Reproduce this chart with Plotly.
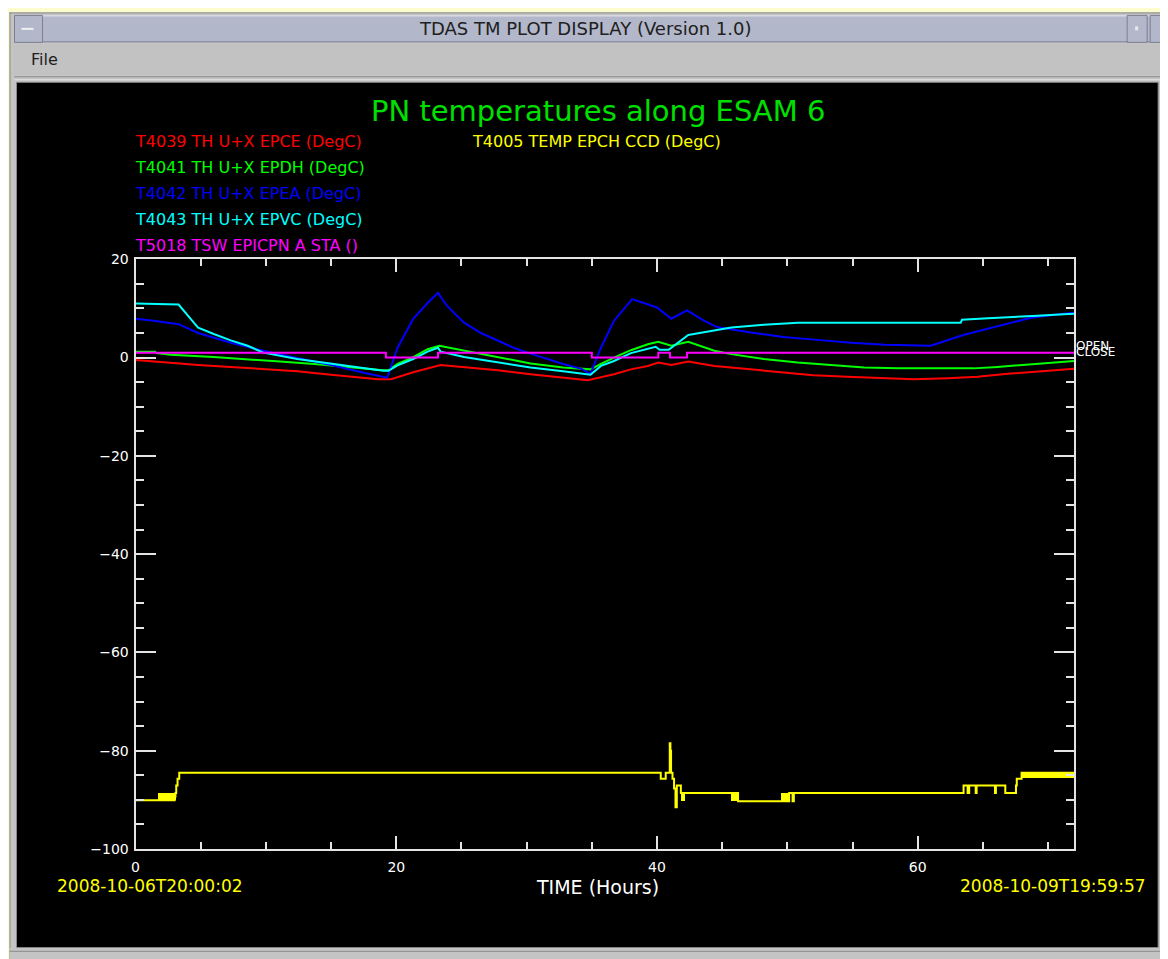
import plotly.graph_objects as go

W, H = 1168, 959

# ---------------- data ----------------
t_red = [0, 2.2, 4.8, 7.3, 9.8, 12.4, 15.0, 17.5, 18.6, 19.6, 21.3, 23.4, 25.2, 27.8, 30.3, 32.8, 34.7,
         36.7, 38.0, 39.3, 40.1, 41.1, 42.4, 44.4, 47.0, 49.5, 52.0, 54.6, 57.2, 59.7, 62.3, 64.6,
         66.9, 68.7, 70.0, 71.5, 72.0]
v_red = [-0.5, -1.0, -1.5, -1.9, -2.4, -2.8, -3.5, -4.1, -4.4, -4.4, -3.0, -1.5, -1.9, -2.6, -3.4, -4.1, -4.6,
         -3.4, -2.4, -1.7, -1.0, -1.5, -0.8, -1.7, -2.4, -3.0, -3.6, -3.9, -4.1, -4.4, -4.2, -3.9,
         -3.3, -2.9, -2.6, -2.4, -2.3]

t_green = [0, 1.5, 1.6, 2.7, 6.0, 8.6, 11.1, 13.7, 16.3, 19.0, 19.4, 20.1, 21.3, 22.4, 23.3, 25.2, 27.8,
           30.3, 32.8, 34.9, 35.7, 36.7, 38.0, 39.3, 40.1, 41.1, 42.4, 44.4, 45.7, 48.2, 50.8, 53.3,
           55.9, 58.5, 64.3, 66.1, 68.1, 70.0, 71.5, 72.0]
v_green = [1.2, 1.2, 0.9, 0.55, 0.1, -0.3, -0.8, -1.3, -2.0, -2.6, -2.6, -1.3, 0.1, 1.7, 2.4, 1.4, 0.0,
           -1.2, -2.0, -2.4, -1.3, 0.0, 1.5, 2.7, 3.2, 2.4, 3.2, 1.4, 0.7, -0.3, -1.0, -1.5,
           -2.0, -2.2, -2.2, -1.9, -1.5, -1.1, -0.8, -0.7]

t_blue = [0, 1.4, 3.3, 4.8, 7.3, 9.8, 12.4, 15.0, 17.5, 19.3, 20.1, 21.3, 22.4, 23.2, 23.9, 25.2, 26.5,
          27.8, 29.0, 30.3, 31.6, 32.8, 34.2, 34.9, 35.7, 36.7, 38.1, 38.9, 40.0, 41.1, 42.3, 43.6,
          44.6, 47.2, 49.7, 52.3, 54.9, 57.5, 61.0, 63.5, 66.1, 68.7, 71.2, 72.0]
v_blue = [7.9, 7.5, 6.8, 5.0, 3.0, 1.4, -0.1, -1.5, -3.1, -4.1, 2.0, 7.9, 11.1, 13.2, 10.5, 7.1, 5.0,
          3.4, 2.0, 0.8, -0.3, -1.3, -2.3, -3.3, 2.0, 7.5, 11.9, 11.2, 10.2, 7.9, 9.6, 7.5,
          6.2, 5.1, 4.2, 3.6, 3.0, 2.6, 2.4, 4.6, 6.4, 8.1, 8.9, 9.1]

t_cyan = [0, 1.4, 3.3, 4.5, 4.8, 6.0, 7.3, 8.6, 9.8, 12.4, 15.0, 17.5, 19.0, 19.4, 20.1, 21.3, 22.4, 23.2,
          23.4, 25.2, 27.8, 30.3, 32.8, 34.9, 35.7, 36.7, 38.0, 39.3, 39.9, 40.2, 40.9, 42.4, 45.7,
          48.2, 50.8, 63.3, 63.4, 65.4, 67.2, 69.2, 71.2, 72.0]
v_cyan = [11.0, 10.9, 10.8, 7.0, 6.1, 4.8, 3.5, 2.4, 1.0, -0.3, -1.3, -2.2, -2.7, -2.7, -1.6, -0.3, 1.2, 2.0,
          1.2, 0.1, -1.0, -2.0, -2.8, -3.5, -1.7, -0.7, 0.9, 1.7, 2.2, 1.6, 1.6, 4.6, 6.1,
          6.7, 7.1, 7.1, 7.7, 8.0, 8.3, 8.5, 8.8, 8.9]

t_mag = [0, 19.2, 23.2, 35.0, 40.1, 41.0, 42.3, 72.0]
v_mag = [1, 0, 1, 0, 1, 0, 1, 1]

t_yel = [0, 3.0, 3.06, 3.12, 3.22, 3.35, 40.29, 40.67, 40.98, 41.03, 41.08, 41.19, 41.31, 41.42, 41.52,
         41.83, 45.61, 46.22, 49.5, 50.14, 50.4, 50.5, 63.52, 63.83, 63.95, 64.45, 64.52, 65.93,
         66.0, 66.72, 67.54, 67.6, 67.97, 72.0]
v_yel = [-90.1, -89.3, -88.6, -87.1, -85.7, -84.5, -85.7, -84.5, -78.5, -80.0, -84.5, -85.7, -87.7, -91.5, -87.1,
         -88.6, -88.6, -90.3, -90.3, -88.6, -90.3, -88.6, -87.1, -88.6, -87.1, -88.6, -87.1, -88.6,
         -87.1, -88.6, -87.1, -85.7, -84.5, -84.5]

# rapid toggling bands of T4005
band_t0 = [1.72, 41.83, 45.61, 49.5, 67.97]
band_t1 = [3.04, 42.13, 46.22, 50.14, 72.0]
band_lo = [-90.1, -90.3, -90.3, -90.3, -85.7]
band_hi = [-88.6, -88.6, -88.6, -88.6, -84.5]

x_ticks = [0, 20, 40, 60]
y_ticks = [20, 0, -20, -40, -60, -80, -100]

labels = ["T4039 TH U+X EPCE (DegC)", "T4041 TH U+X EPDH (DegC)", "T4042 TH U+X EPEA (DegC)",
          "T4043 TH U+X EPVC (DegC)", "T5018 TSW EPICPN A STA ()"]
label_colors = ["#ff0000", "#00ff00", "#0000ff", "#00ffff", "#ff00ff"]
yel_label = "T4005 TEMP EPCH CCD (DegC)"

# ---------------- figure ----------------
FONT = "DejaVu Sans"
fig = go.Figure()

fig.add_trace(go.Bar(x=[(a + b) / 2 for a, b in zip(band_t0, band_t1)],
                     width=[b - a for a, b in zip(band_t0, band_t1)],
                     base=band_lo, y=[h - l for h, l in zip(band_hi, band_lo)],
                     marker=dict(color="#ffff00", line=dict(width=0)), showlegend=False, hoverinfo="skip"))

for tx, vy, col in [(t_red, v_red, "#ff0000"), (t_green, v_green, "#00ff00"),
                    (t_blue, v_blue, "#0000ff"), (t_cyan, v_cyan, "#00ffff")]:
    fig.add_trace(go.Scatter(x=tx, y=vy, mode="lines", line=dict(color=col, width=2), showlegend=False))
fig.add_trace(go.Scatter(x=t_mag, y=v_mag, mode="lines", line=dict(color="#ff00ff", width=2, shape="hv"),
                         showlegend=False))
fig.add_trace(go.Scatter(x=t_yel, y=v_yel, mode="lines", line=dict(color="#ffff00", width=2, shape="hv"),
                         showlegend=False))

# page placement correction (figure appears offset/compressed in the viewer)
SX, OX = 0.996, 11.5
SY, OY = 0.985, 14.6


def X(px):
    return ((px - OX) / SX) / W


def Y(py):
    return 1 - ((py - OY) / SY) / H


shapes = []


def rect(x0, y0, x1, y1, fill, line=None, lw=0):
    shapes.append(dict(type="rect", xref="paper", yref="paper", x0=X(x0), x1=X(x1), y0=Y(y1), y1=Y(y0),
                       fillcolor=fill, line=dict(color=line or fill, width=lw), layer="below"))


def hline(x0, x1, y, color, w=1):
    shapes.append(dict(type="line", xref="paper", yref="paper", x0=X(x0), x1=X(x1), y0=Y(y), y1=Y(y),
                       line=dict(color=color, width=w), layer="below"))


def vline(x, y0, y1, color, w=1):
    shapes.append(dict(type="line", xref="paper", yref="paper", x0=X(x), x1=X(x), y0=Y(y0), y1=Y(y1),
                       line=dict(color=color, width=w), layer="below"))


# window chrome
rect(-20, -20, W + 20, 11, "#fcfccc")
rect(-20, -20, 9, H + 20, "#fcfccc")
rect(9, 11, W + 20, H + 20, "#c4c4c4")
hline(9, W + 20, 11.5, "#8a8a8a")
vline(9.5, 11, H + 20, "#8a8a8a")
# title bar
rect(14, 14, W + 20, 41, "#b3b7ca")
hline(14, W + 20, 14.5, "#e8e8f0")
hline(14, W + 20, 40.5, "#7c7f90")
rect(14, 14, 42, 41, "#b3b7ca", "#7c7f90", 1)
hline(21, 33, 27.5, "#f0f0f0", 2)
rect(1126, 14, 1146, 41, "#b3b7ca", "#7c7f90", 1)
rect(1134, 25, 1137, 29, "#e8e8e8")
rect(1149, 14, W + 20, 41, "#b3b7ca", "#7c7f90", 1)
# menu bar
rect(14, 43, W + 20, 74, "#c2c2c2")
hline(14, W + 20, 75.5, "#8a8a8a", 1)
hline(14, W + 20, 78.5, "#e6e6e6", 1)
# canvas
rect(16, 81, 1157, 948, "#000000", "#8a8a8a", 1)
rect(9, 948, W + 20, H + 20, "#c4c4c4")
hline(9, W + 20, 951.5, "#8a8a8a")

ann = []


def text(s, x, y, size, color, anchor="left"):
    ann.append(dict(text=s, x=X(x), y=Y(y), xref="paper", yref="paper", showarrow=False,
                    font=dict(family=FONT, size=size, color=color), xanchor=anchor, yanchor="middle"))


text("TDAS TM PLOT DISPLAY (Version 1.0)", 584, 27, 18, "#202020", "center")
text("File", 28, 58, 16, "#202020")
text("PN temperatures along ESAM 6", 597, 110, 29, "#00e000", "center")
for i, (lab, col) in enumerate(zip(labels, label_colors)):
    text(lab, 132, 140 + 26 * i, 16, col)
text(yel_label, 469, 140, 16, "#ffff00")
text("TIME (Hours)", 597, 887, 19, "#ffffff", "center")
text("2008-10-06T20:00:02", 54, 886, 17, "#ffff00")
text("2008-10-09T19:59:57", 1147, 886, 17, "#ffff00", "right")
text("OPEN", 1073, 345, 12, "#ffffff")
text("CLOSE", 1073, 351, 12, "#ffffff")

AX = "#e4e4e4"
fig.update_layout(
    width=W, height=H, margin=dict(l=0, r=0, t=0, b=0),
    paper_bgcolor="#fcfccc", plot_bgcolor="#000000",
    shapes=shapes, annotations=ann, showlegend=False, bargap=0,
    xaxis=dict(domain=[X(135), X(1073)], range=[0, 72], showgrid=False, zeroline=False,
               showline=True, linecolor=AX, linewidth=2, mirror="allticks",
               ticks="inside", ticklen=13, tickwidth=1.5, tickcolor=AX,
               tickvals=x_ticks, ticktext=[str(v) for v in x_ticks],
               tickfont=dict(family=FONT, size=14, color="#ffffff"), ticklabelstandoff=4,
               minor=dict(dtick=5, ticklen=7, tickwidth=1.5, tickcolor=AX, ticks="inside", showgrid=False)),
    yaxis=dict(domain=[Y(849), Y(258.3)], range=[-100, 20], showgrid=False, zeroline=False,
               showline=True, linecolor=AX, linewidth=2, mirror="allticks",
               ticks="inside", ticklen=20, tickwidth=1.5, tickcolor=AX,
               tickvals=y_ticks, ticktext=[str(v).replace("-", "\u2212") for v in y_ticks],
               tickfont=dict(family=FONT, size=14, color="#ffffff"), ticklabelstandoff=2,
               minor=dict(dtick=5, ticklen=8, tickwidth=1.5, tickcolor=AX, ticks="inside", showgrid=False)),
)

fig.write_html("out.html")
